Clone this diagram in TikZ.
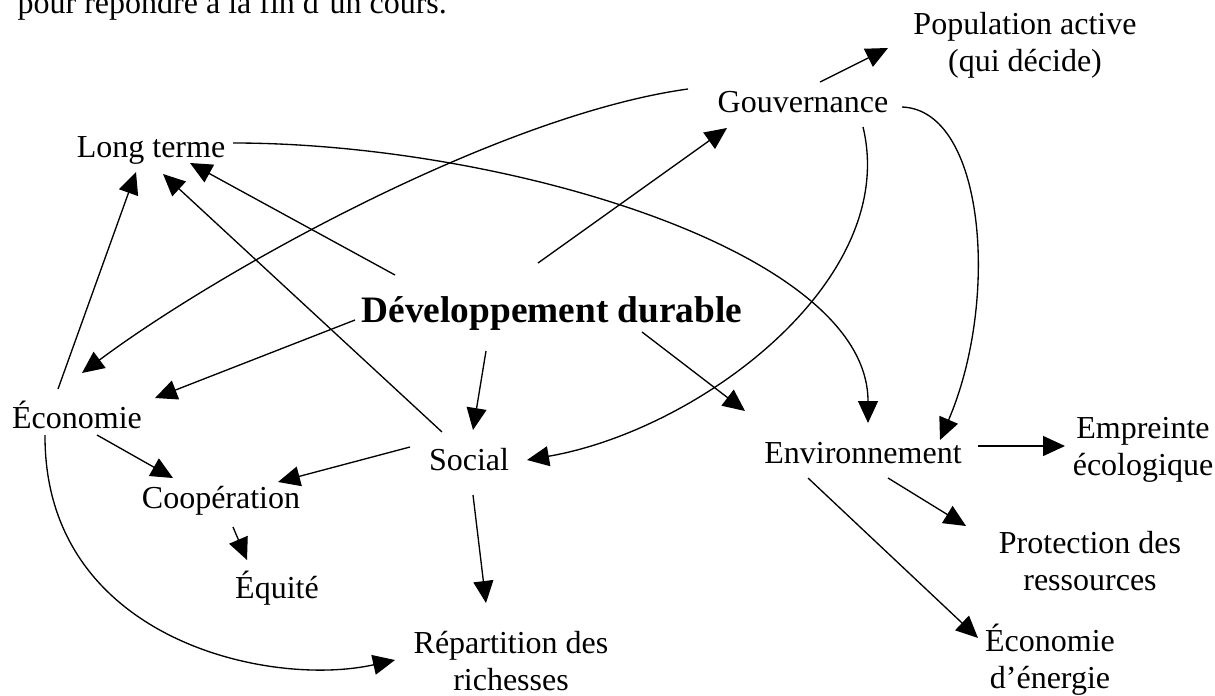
\documentclass[tikz,border=0pt]{standalone}
\usepackage{fontspec}
\setmainfont{Liberation Serif}
\usetikzlibrary{arrows.meta}

\begin{document}
\begin{tikzpicture}[x=0.375pt,y=-0.375pt,line width=0.5pt,
		>={Triangle[length=8.25pt,width=7.5pt]},font=\fontsize{12}{13.875}\selectfont]
	\tikzset{lbl/.style={anchor=base,inner sep=0pt,align=center},
		big/.style={lbl,font=\fontsize{14}{16}\selectfont\bfseries}
	}
	\useasboundingbox (0,0) rectangle (1215,695);
	\node[lbl,anchor=base west] (note) at (17,14) {pour répondre à la fin d’un cours.};
	\node[big] (dd) at (552,322) {Développement durable};
	\node[lbl] (lt) at (151,157) {Long terme};
	\node[lbl] (gov) at (803,112) {Gouvernance};
	\node[lbl] (pop) at (1025,72) {Population active\\(qui décide)};
	\node[lbl] (eco) at (77,428) {Économie};
	\node[lbl] (soc) at (469,470) {Social};
	\node[lbl] (env) at (863,463) {Environnement};
	\node[lbl] (emp) at (1143,475) {Empreinte\\écologique};
	\node[lbl] (coop) at (221,508) {Coopération};
	\node[lbl] (equ) at (277,598) {Équité};
	\node[lbl] (rep) at (511,690) {Répartition des\\richesses};
	\node[lbl] (prot) at (1090,590) {Protection des\\ressources};
	\node[lbl] (ene) at (1050,688) {Économie\\d’énergie};
	% straight arrows
	\draw[->] ([shift={(-157,-47)}]dd.base) -- ([shift={(39,6)}]lt.base);
	\draw[->] ([shift={(-27,-38)}]soc.base) -- ([shift={(12,17)}]lt.base);
	\draw[->] ([shift={(-19,-39)}]eco.base) -- ([shift={(-15,15)}]lt.base);
	\draw[->] ([shift={(-14,-59)}]dd.base) -- ([shift={(-76,16)}]gov.base);
	\draw[->] ([shift={(17,-30)}]gov.base) -- ([shift={(-137,-24)}]pop.base);
	\draw[->] ([shift={(-197,-2)}]dd.base) -- ([shift={(78,-30)}]eco.base);
	\draw[->] ([shift={(-66,29)}]dd.base) -- ([shift={(4,-40)}]soc.base);
	\draw[->] ([shift={(90,10)}]dd.base) -- ([shift={(-118,-52)}]env.base);
	\draw[->] ([shift={(115,-17)}]env.base) -- ([shift={(-78,-29)}]emp.base);
	\draw[->] ([shift={(25,15)}]env.base) -- ([shift={(-124,-64)}]prot.base);
	\draw[->] ([shift={(-55,15)}]env.base) -- ([shift={(-72,-50)}]ene.base);
	\draw[->] ([shift={(-59,-23)}]soc.base) -- ([shift={(57,-26)}]coop.base);
	\draw[->] ([shift={(20,7)}]eco.base) -- ([shift={(-48,-30)}]coop.base);
	\draw[->] ([shift={(12,19)}]coop.base) -- ([shift={(-30,-38)}]equ.base);
	\draw[->] ([shift={(4,25)}]soc.base) -- ([shift={(-25,-87)}]rep.base);
	% curved arrows
	\draw[->] ([shift={(-115,-23)}]gov.base) .. controls +(-188,26) and +(138,-103) .. ([shift={(5,-55)}]eco.base);
	\draw[->] ([shift={(82,-14)}]lt.base) .. controls +(267,0) and +(0,-173) .. ([shift={(5,-40)}]env.base);
	\draw[->] ([shift={(60,15)}]gov.base) .. controls +(37,153) and +(173,-30) .. ([shift={(58,-10)}]soc.base);
	\draw[->] ([shift={(99,-5)}]gov.base) .. controls +(83,3) and +(60,-140) .. ([shift={(77,-23)}]env.base);
	\draw[->] ([shift={(-32,7)}]eco.base) .. controls +(-1,205) and +(-125,28) .. ([shift={(-116,-30)}]rep.base);
\end{tikzpicture}
\end{document}
